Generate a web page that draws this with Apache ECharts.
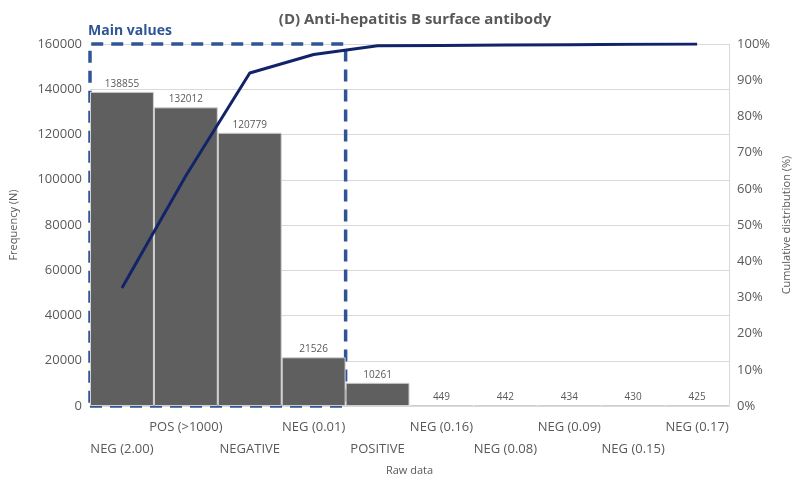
<!DOCTYPE html>
<html><head><meta charset="utf-8">
<script src="https://cdn.jsdelivr.net/npm/echarts@6/dist/echarts.min.js"></script>
<style>html,body{margin:0;padding:0;background:#fff}#c{width:800px;height:490px}</style>
</head><body><div id="c"></div>
<script>
var categories = ['NEG (2.00)','POS (>1000)','NEGATIVE','NEG (0.01)','POSITIVE','NEG (0.16)','NEG (0.08)','NEG (0.09)','NEG (0.15)','NEG (0.17)'];
var frequency = [138855,132012,120779,21526,10261,449,442,434,430,425];
var cumulativePct = [32.6,63.6,92.0,97.1,99.5,99.6,99.7,99.8,99.9,100];
var leftTicks = [0,20000,40000,60000,80000,100000,120000,140000,160000];
var mainValuesRange = [0,4];

var chart = echarts.init(document.getElementById('c'));
var font = 'Open Sans, Noto Sans, sans-serif';
var grey = '#595959';
chart.setOption({
  animation:false,
  textStyle:{fontFamily:font},
  title:{text:'(D) Anti-hepatitis B surface antibody',left:410,textAlign:'center',top:7,
    textStyle:{fontSize:15,fontWeight:'bold',color:grey,fontFamily:font}},
  grid:{left:89,right:62,top:44,bottom:84},
  xAxis:[{
    type:'category',data:categories,boundaryGap:true,
    axisLine:{lineStyle:{color:'#d9d9d9'}},axisTick:{show:false},
    axisLabel:{interval:0,color:grey,fontSize:13,margin:10,lineHeight:22,
      formatter:function(v,i){return i%2===1? v : '\n'+v;}},
    name:'Raw data',nameLocation:'middle',nameGap:56,nameTextStyle:{color:grey,fontSize:11}
  },{
    type:'value',min:0,max:10,show:false
  }],
  yAxis:[{
    type:'value',min:0,max:160000,interval:20000,
    axisLabel:{color:grey,fontSize:13,margin:8,formatter:function(v){return String(v);}},
    axisLine:{show:false},axisTick:{show:false},
    splitLine:{lineStyle:{color:'#d9d9d9'}},
    name:'Frequency (N)',nameLocation:'middle',nameGap:71,nameRotate:90,nameTextStyle:{color:grey,fontSize:11}
  },{
    type:'value',min:0,max:100,interval:10,position:'right',
    axisLabel:{color:grey,fontSize:13,margin:8,formatter:'{value}%'},
    axisLine:{show:true,lineStyle:{color:'#d9d9d9'}},axisTick:{show:false},
    splitLine:{show:false},
    name:'Cumulative distribution (%)',nameLocation:'middle',nameGap:47,nameRotate:90,nameTextStyle:{color:grey,fontSize:11}
  }],
  series:[{
    type:'bar',data:frequency,barCategoryGap:'0%',
    itemStyle:{color:'#5f5f5f',borderColor:'#d0d0d0',borderWidth:1},
    label:{show:true,position:'top',color:grey,fontSize:10,distance:3}
  },{
    type:'line',yAxisIndex:1,data:cumulativePct,symbol:'none',
    lineStyle:{color:'#122469',width:3}
  },{
    type:'line',xAxisIndex:1,yAxisIndex:0,data:[],
    markArea:{silent:true,
      itemStyle:{color:'rgba(0,0,0,0)',borderColor:'#2f5597',borderWidth:3.5,borderType:[12,8]},
      label:{show:false},
      data:[[{xAxis:mainValuesRange[0],yAxis:0},{xAxis:mainValuesRange[1],yAxis:160000}]]}
  }],
  graphic:[{type:'text',left:88,top:24,style:{text:'Main values',fill:'#2f5597',font:'bold 14px '+font}}]
});
</script></body></html>
